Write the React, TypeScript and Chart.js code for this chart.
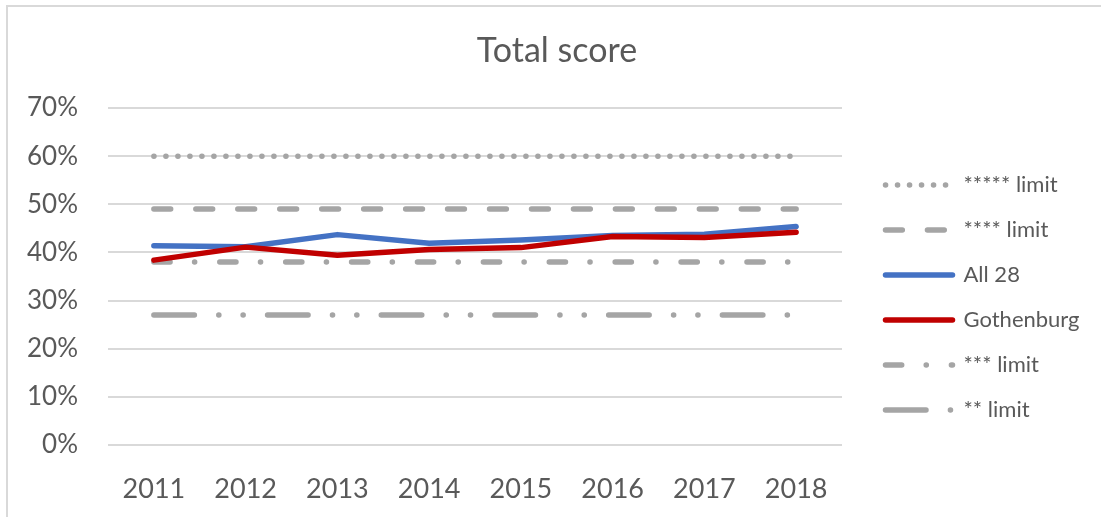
import React, { useEffect, useRef } from "react";
import { Chart, registerables } from "chart.js";

Chart.register(...registerables);

// ---- data ----
const years = ["2011", "2012", "2013", "2014", "2015", "2016", "2017", "2018"];
const fiveStarLimit = [60, 60, 60, 60, 60, 60, 60, 60];
const fourStarLimit = [49, 49, 49, 49, 49, 49, 49, 49];
const all28 = [41.4, 41.2, 43.7, 41.9, 42.6, 43.5, 43.8, 45.4];
const gothenburg = [38.4, 41.1, 39.4, 40.6, 41.0, 43.3, 43.1, 44.2];
const threeStarLimit = [38, 38, 38, 38, 38, 38, 38, 38];
const twoStarLimit = [27, 27, 27, 27, 27, 27, 27, 27];
const yTickValues = [0, 10, 20, 30, 40, 50, 60, 70];
const seriesNames = ["***** limit", "**** limit", "All 28", "Gothenburg", "*** limit", "** limit"];
const chartTitle = "Total score";

const FONT = "Lato";
const TEXT = "#595959";
const GRAY = "#a5a5a5";
const BLUE = "#4472c4";
const RED = "#c00000";

export default function App() {
  const ref = useRef<HTMLCanvasElement | null>(null);

  useEffect(() => {
    const canvas = ref.current;
    if (!canvas) return;

    const W = 1098;
    const legendFontSize = 22;
    const legendPad = 23;
    const boxW = 67;
    const legendLeft = 854.5;
    const chartRight = 834;
    const LW = 5.5;

    const mctx = document.createElement("canvas").getContext("2d")!;
    mctx.font = `${legendFontSize}px ${FONT}`;
    const maxText = Math.max(...seriesNames.map((s) => mctx.measureText(s).width));
    const legendWidth = legendPad + boxW + legendFontSize / 2 + maxText + 10;
    const outerW = Math.max(0, W - legendLeft - legendWidth);

    const common = {
      pointRadius: 0,
      pointHoverRadius: 0,
      borderWidth: LW,
      borderCapStyle: "round" as const,
      borderJoinStyle: "round" as const,
      tension: 0,
      fill: false,
    };

    const chart = new Chart(canvas, {
      type: "line",
      data: {
        labels: years,
        datasets: [
          { ...common, label: seriesNames[0], data: fiveStarLimit, borderColor: GRAY, backgroundColor: GRAY, borderDash: [0.1, 11.9], order: 2 },
          { ...common, label: seriesNames[1], data: fourStarLimit, borderColor: GRAY, backgroundColor: GRAY, borderDash: [16.8, 25.16], order: 2 },
          { ...common, label: seriesNames[2], data: all28, borderColor: BLUE, backgroundColor: BLUE, order: 1 },
          { ...common, label: seriesNames[3], data: gothenburg, borderColor: RED, backgroundColor: RED, order: 0 },
          { ...common, label: seriesNames[4], data: threeStarLimit, borderColor: GRAY, backgroundColor: GRAY, borderDash: [16.2, 24.5, 0.1, 25.1], order: 2 },
          { ...common, label: seriesNames[5], data: twoStarLimit, borderColor: GRAY, backgroundColor: GRAY, borderDash: [40.5, 24.4, 0.1, 24.2, 0.1, 24.4], order: 2 },
        ],
      },
      options: {
        responsive: true,
        maintainAspectRatio: false,
        animation: false,
        devicePixelRatio: 1,
        events: [],
        layout: { padding: 0 },
        plugins: {
          title: {
            display: true,
            text: chartTitle,
            color: TEXT,
            font: { family: FONT, size: 34, weight: "normal" },
            padding: { top: 23.6, bottom: 36.6 },
          },
          legend: {
            position: "right",
            align: "start",
            maxWidth: 400,
            title: { display: true, text: " ", padding: { top: 0, bottom: 132 }, font: { size: 10 } },
            labels: {
              usePointStyle: true,
              pointStyle: "line",
              pointStyleWidth: boxW,
              boxHeight: 5,
              padding: legendPad,
              color: TEXT,
              font: { family: FONT, size: legendFontSize },
              generateLabels: (c: any) => {
                const items = (Chart.defaults.plugins.legend.labels as any).generateLabels(c);
                return items.map((it: any) => {
                  const ds: any = c.data.datasets[it.datasetIndex];
                  return {
                    ...it,
                    lineDash: ds.borderDash || [],
                    lineDashOffset: 0,
                    lineCap: "round",
                    lineJoin: "round",
                    lineWidth: LW,
                    strokeStyle: ds.borderColor,
                    fillStyle: ds.borderColor,
                    pointStyle: "line",
                  };
                });
              },
              sort: (a: any, b: any) => a.datasetIndex - b.datasetIndex,
            },
          },
          tooltip: { enabled: false },
        },
        scales: {
          x: {
            type: "category",
            offset: true,
            grid: { display: false, drawTicks: false },
            border: { display: false },
            ticks: { color: TEXT, font: { family: FONT, size: 27 }, padding: 28, maxRotation: 0, autoSkip: false },
            afterFit: (s: any) => { s.height = 72; },
          },
          y: {
            type: "linear",
            min: 0,
            max: 70,
            afterBuildTicks: (s: any) => { s.ticks = yTickValues.map((v) => ({ value: v })); },
            ticks: { color: TEXT, font: { family: FONT, size: 26 }, padding: 30, callback: (v: any) => `${v}%` },
            grid: { color: "#d9d9d9", lineWidth: 2, drawTicks: false },
            border: { display: false },
            afterFit: (s: any) => { s.width = 100; },
          },
          gapInner: {
            type: "linear",
            position: "right",
            display: true,
            grid: { display: false, drawTicks: false },
            border: { display: false },
            ticks: { display: false },
            afterFit: (s: any) => { s.width = legendLeft - chartRight; },
          },
          gapOuter: {
            type: "linear",
            position: "right",
            weight: 2000,
            display: true,
            grid: { display: false, drawTicks: false },
            border: { display: false },
            ticks: { display: false },
            afterFit: (s: any) => { s.width = outerW; },
          },
        } as any,
      },
    });

    return () => chart.destroy();
  }, []);

  return (
    <div style={{ position: "fixed", left: 0, top: 0, width: 1101, height: 517, overflow: "hidden", background: "#fff" }}>
      <div style={{ position: "absolute", left: 6, top: 5, width: 1120, height: 540, border: "2px solid #d9d9d9", boxSizing: "border-box" }} />
      <div style={{ position: "absolute", left: 8, top: 7, width: 1098, height: 510 }}>
        <canvas ref={ref} />
      </div>
    </div>
  );
}
